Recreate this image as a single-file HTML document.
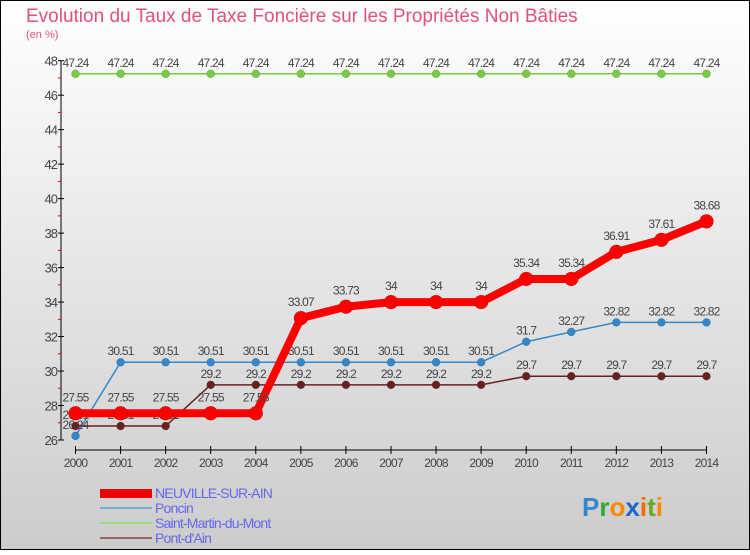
<!DOCTYPE html>
<html><head><meta charset="utf-8"><style>
body{margin:0;width:750px;height:550px;overflow:hidden;font-family:"Liberation Sans",sans-serif}
</style></head><body>
<svg id="c" width="750" height="550" xmlns="http://www.w3.org/2000/svg" font-family="Liberation Sans, sans-serif">
<defs><linearGradient id="bg" x1="0" y1="0" x2="0" y2="1"><stop offset="0" stop-color="#ffffff"/><stop offset="1" stop-color="#cccccc"/></linearGradient></defs>
<rect x="0.5" y="0.5" width="749" height="549" fill="url(#bg)" stroke="#000"/>
<text x="26" y="22" font-size="19" fill="#e05080">Evolution du Taux de Taxe Foncière sur les Propriétés Non Bâties</text>
<text x="26" y="38" font-size="11" fill="#e05080">(en %)</text>
<g id="axes"></g><g id="series"></g>
<g>
<rect x="100" y="489" width="52" height="9" fill="#ee0000"/>
<text x="155" y="498" font-size="14" fill="#6666ee" letter-spacing="-0.8">NEUVILLE-SUR-AIN</text>
<rect x="100" y="507" width="52" height="2" fill="#7aaad0"/>
<text x="155" y="513" font-size="14" fill="#6666ee" letter-spacing="-0.8">Poncin</text>
<rect x="100" y="522" width="52" height="2" fill="#99dd77"/>
<text x="155" y="528" font-size="14" fill="#6666ee" letter-spacing="-0.8">Saint-Martin-du-Mont</text>
<rect x="100" y="537" width="52" height="2" fill="#996666"/>
<text x="155" y="543" font-size="14" fill="#6666ee" letter-spacing="-0.8">Pont-d'Ain</text>
</g>
<g font-size="26" font-weight="bold">
<text x="582" y="516"><tspan fill="#3388cc">P</tspan><tspan fill="#33aa33">r</tspan><tspan fill="#ff8800">o</tspan><tspan fill="#2266cc">x</tspan><tspan fill="#ff6600">i</tspan><tspan fill="#66aa22">t</tspan><tspan fill="#ff8800">i</tspan></text>
</g>
</svg>
<script>
const years=[2000,2001,2002,2003,2004,2005,2006,2007,2008,2009,2010,2011,2012,2013,2014];
const neuville=[27.55,27.55,27.55,27.55,27.55,33.07,33.73,34,34,34,35.34,35.34,36.91,37.61,38.68];
const poncin=[26.24,30.51,30.51,30.51,30.51,30.51,30.51,30.51,30.51,30.51,31.7,32.27,32.82,32.82,32.82];
const stMartin=[47.24,47.24,47.24,47.24,47.24,47.24,47.24,47.24,47.24,47.24,47.24,47.24,47.24,47.24,47.24];
const pontDAin=[26.81,26.81,26.81,29.2,29.2,29.2,29.2,29.2,29.2,29.2,29.7,29.7,29.7,29.7,29.7];
const yTicks=[26,28,30,32,34,36,38,40,42,44,46,48];
const NS="http://www.w3.org/2000/svg";
const x=i=>75.5+i*45.07;
const y=v=>440-(v-26)*(379.3/22);
function mk(p,t,a){const e=document.createElementNS(NS,t);for(const k in a)e.setAttribute(k,a[k]);p.appendChild(e);return e;}
const ax=document.getElementById('axes');
mk(ax,'line',{x1:61,y1:y(48),x2:61,y2:440,stroke:'#000'});
mk(ax,'line',{x1:x(0),y1:450,x2:x(14),y2:450,stroke:'#000'});
yTicks.forEach(v=>{
 mk(ax,'line',{x1:58,y1:y(v),x2:64,y2:y(v),stroke:'#000'});
 if(v<48)mk(ax,'line',{x1:58,y1:y(v+1),x2:61,y2:y(v+1),stroke:'#e00'});
 const t=mk(ax,'text',{x:57,y:y(v)+5,'font-size':13,fill:'#444','text-anchor':'end','letter-spacing':'-1'});
 t.textContent=v;
});
years.forEach((yr,i)=>{
 mk(ax,'line',{x1:x(i),y1:446,x2:x(i),y2:454,stroke:'#000'});
 const t=mk(ax,'text',{x:x(i),y:467,'font-size':12,fill:'#444','text-anchor':'middle','letter-spacing':'-0.8'});
 t.textContent=yr;
});
const sg=document.getElementById('series');
function draw(name,vals,color,w,r,off){
 const g=mk(sg,'g',{});
 
 mk(g,'polyline',{points:vals.map((v,i)=>x(i)+','+y(v)).join(' '),fill:'none',stroke:color,'stroke-width':w,'stroke-linejoin':'round'});
 vals.forEach((v,i)=>{
  const c=mk(g,'circle',{cx:x(i),cy:y(v),r:r,fill:color,stroke:'rgba(0,0,0,0.25)','stroke-width':0.5});
  
  const t=mk(g,'text',{x:x(i),y:y(v)-off,'font-size':12,fill:'#444','text-anchor':'middle','letter-spacing':'-0.8'});
  t.textContent=v;
 });
}
draw('series-saint-martin',stMartin,'#77cc44',1.5,4,7);
draw('series-poncin',poncin,'#3388cc',1.5,4,7);
draw('series-pont-d-ain',pontDAin,'#662222',1.5,4,7);
draw('series-neuville',neuville,'#ff0000',8,7,12);
</script>
</body></html>
